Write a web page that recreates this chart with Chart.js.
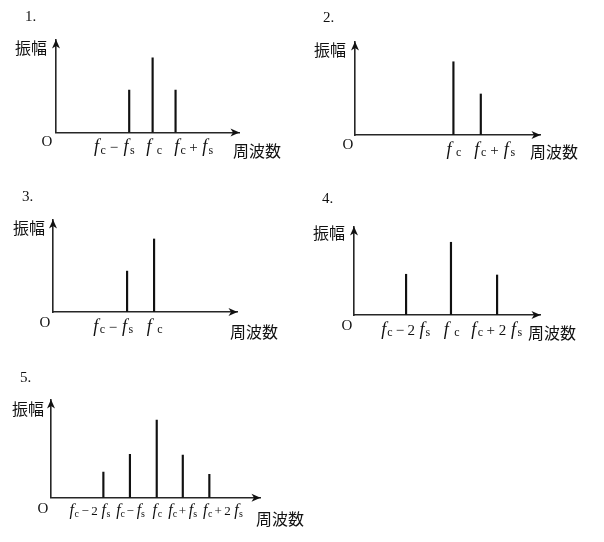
<!DOCTYPE html>
<html>
<head>
<meta charset="utf-8">
<script src="https://cdn.jsdelivr.net/npm/chart.js@4.4.1/dist/chart.umd.min.js"></script>
<style>
html,body{margin:0;padding:0;background:#fff;}
#wrap{position:relative;width:604px;height:542px;overflow:hidden;background:#fff;}
#wrap canvas{position:absolute;left:0;top:0;}
</style>
</head>
<body>
<div id="wrap">
<canvas id="c1" width="604" height="542"></canvas>
<canvas id="c2" width="604" height="542"></canvas>
<canvas id="c3" width="604" height="542"></canvas>
<canvas id="c4" width="604" height="542"></canvas>
<canvas id="c5" width="604" height="542"></canvas>
</div>
<script>
// ---------------- data ----------------
const panelNumbers = ['1.', '2.', '3.', '4.', '5.'];
const yAxisTitle = '振幅';
const xAxisTitle = '周波数';
const originLabel = 'O';

// panel 1
const p1Freq = [3.0, 3.96, 4.9];
const p1Amp = [0.57, 1.0, 0.57];
const p1Ticks = ['f_c−f_s', 'f_c', 'f_c+f_s'];
const p1Range = [7.5, 1.24];

// panel 2
const p2Freq = [3.99, 5.1];
const p2Amp = [1.0, 0.56];
const p2Ticks = ['f_c', 'f_c+f_s'];
const p2Range = [7.5, 1.27];

// panel 3
const p3Freq = [3.02, 4.12];
const p3Amp = [0.56, 1.0];
const p3Ticks = ['f_c−f_s', 'f_c'];
const p3Range = [7.5, 1.26];

// panel 4
const p4Freq = [2.1, 3.91, 5.77];
const p4Amp = [0.56, 1.0, 0.55];
const p4Ticks = ['f_c−2f_s', 'f_c', 'f_c+2f_s'];
const p4Range = [7.5, 1.21];

// panel 5
const p5Freq = [2.13, 3.21, 4.3, 5.36, 6.44];
const p5Amp = [0.33, 0.56, 1.0, 0.55, 0.3];
const p5Ticks = ['f_c−2f_s', 'f_c−f_s', 'f_c', 'f_c+f_s', 'f_c+2f_s'];
const p5Range = [8.5, 1.26];

// ---------------- layout (styling only) ----------------
const layouts = [
  {area:[56,40,239,132.5], num:[25,17.5], yt:[15,47.5], xt:[233,151], origin:[47,142.5], tickDx:[-15.5,1,17.5], tickW:[42,17,40], tickOff:19.5, tickSize:15},
  {area:[355,42,540,135], num:[323,18], yt:[314,50], xt:[530,152], origin:[348,145], tickDx:[0,13.3], tickW:[16,42], tickOff:19.5, tickSize:15},
  {area:[53,220,237,312], num:[22,197.5], yt:[13,228], xt:[230,332], origin:[45,323], tickDx:[-14.5,0], tickW:[41,17], tickOff:19.5, tickSize:15},
  {area:[354,227,540,315], num:[322,199], yt:[313,232.5], xt:[528,333], origin:[347,326], tickDx:[-1,0,-1], tickW:[50,17,52], tickOff:19.5, tickSize:15},
  {area:[51,400,260,497.7], num:[20,378], yt:[12,409], xt:[256,519], origin:[43,509], tickDx:[-14,0,0,-0.7,13], tickW:[42,30,11,30,41], tickOff:17.5, tickSize:13}
];

const series = [
  {freq:p1Freq, amp:p1Amp, ticks:p1Ticks, range:p1Range},
  {freq:p2Freq, amp:p2Amp, ticks:p2Ticks, range:p2Range},
  {freq:p3Freq, amp:p3Amp, ticks:p3Ticks, range:p3Range},
  {freq:p4Freq, amp:p4Amp, ticks:p4Ticks, range:p4Range},
  {freq:p5Freq, amp:p5Amp, ticks:p5Ticks, range:p5Range}
];

const INK = '#111111';
const AXIS = '#262626';
const CJK = '"Noto Sans CJK JP", "Noto Sans CJK SC", sans-serif';
const SERIF = '"Liberation Serif", "DejaVu Serif", serif';

function drawRich(ctx, str, cx, baseY, size, targetW) {
  const toks = [];
  for (let i = 0; i < str.length; i++) {
    const ch = str[i];
    if (ch === '_') { toks.push({t: str[++i], kind: 'sub'}); }
    else if (ch === 'f') { toks.push({t: 'f', kind: 'var'}); }
    else { toks.push({t: ch, kind: 'op'}); }
  }
  const fonts = {
    var: 'italic ' + (size + 3) + 'px ' + SERIF,
    sub: Math.round(size * 0.8) + 'px ' + SERIF,
    op: size + 'px ' + SERIF
  };
  toks.forEach(t => { ctx.font = fonts[t.kind]; t.w = ctx.measureText(t.t).width; });
  const nat = toks.reduce((s, t) => s + t.w, 0);
  // gap weights: a subscript sits closer to its variable
  const weights = [];
  for (let i = 1; i < toks.length; i++) weights.push(toks[i].kind === 'sub' ? 0.7 : 1);
  const wSum = weights.reduce((a, b) => a + b, 0);
  const unit = wSum > 0 ? (targetW - nat) / wSum : 0;
  let x = cx - targetW / 2;
  if (toks.length === 1) x = cx - nat / 2;
  ctx.textAlign = 'left';
  ctx.textBaseline = 'alphabetic';
  toks.forEach((t, i) => {
    ctx.font = fonts[t.kind];
    ctx.fillText(t.t, x + (t.kind === 'var' ? 1.2 : 0), baseY + (t.kind === 'sub' ? size * 0.12 : 0));
    x += t.w + (i < weights.length ? weights[i] * unit : 0);
  });
}

function makeChart(idx) {
  const s = series[idx];
  const L = layouts[idx];
  const [aL, aT, aR, aB] = L.area;
  const decor = {
    id: 'decor' + idx,
    afterDraw(chart) {
      const ctx = chart.ctx;
      const xs = chart.scales.x, ys = chart.scales.y;
      const x0 = xs.getPixelForValue(0), y0 = ys.getPixelForValue(0);
      const xEnd = xs.getPixelForValue(s.range[0]);
      const yEnd = ys.getPixelForValue(s.range[1]);
      ctx.save();
      ctx.fillStyle = INK;
      // arrow heads
      ctx.beginPath();
      ctx.moveTo(xEnd + 0.5, y0);
      ctx.lineTo(xEnd - 8.5, y0 - 4);
      ctx.lineTo(xEnd - 6, y0);
      ctx.lineTo(xEnd - 8.5, y0 + 4);
      ctx.closePath();
      ctx.fill();
      ctx.beginPath();
      ctx.moveTo(x0, yEnd - 0.5);
      ctx.lineTo(x0 - 4, yEnd + 8.5);
      ctx.lineTo(x0, yEnd + 6);
      ctx.lineTo(x0 + 4, yEnd + 8.5);
      ctx.closePath();
      ctx.fill();
      // tick labels under the bars
      s.ticks.forEach((lab, i) => {
        const px = xs.getPixelForValue(s.freq[i]) + L.tickDx[i];
        drawRich(ctx, lab, px, y0 + L.tickOff, L.tickSize, L.tickW[i]);
      });
      // panel number
      ctx.font = '15px ' + SERIF;
      ctx.textAlign = 'left';
      ctx.textBaseline = 'middle';
      ctx.fillText(panelNumbers[idx], L.num[0], L.num[1]);
      // origin
      ctx.font = '15px ' + SERIF;
      ctx.textAlign = 'center';
      ctx.fillText(originLabel, L.origin[0], L.origin[1]);
      // axis titles
      ctx.font = '16px ' + CJK;
      ctx.textAlign = 'left';
      ctx.fillText(yAxisTitle, L.yt[0], L.yt[1]);
      ctx.fillText(xAxisTitle, L.xt[0], L.xt[1]);
      ctx.restore();
    }
  };
  return new Chart(document.getElementById('c' + (idx + 1)), {
    type: 'bar',
    data: {
      datasets: [{
        data: s.freq.map((f, i) => ({x: f, y: s.amp[i]})),
        backgroundColor: INK,
        borderWidth: 0,
        barThickness: 1.5
      }]
    },
    options: {
      responsive: false,
      animation: false,
      devicePixelRatio: 1,
      layout: {padding: {left: aL, top: aT, right: 604 - aR, bottom: 542 - aB}},
      plugins: {legend: {display: false}, tooltip: {enabled: false}, title: {display: false}},
      scales: {
        x: {
          type: 'linear', min: 0, max: s.range[0], offset: false,
          grid: {display: false, drawTicks: false},
          ticks: {display: false},
          border: {display: true, color: AXIS, width: 1.6}
        },
        y: {
          type: 'linear', min: 0, max: s.range[1],
          grid: {display: false, drawTicks: false},
          ticks: {display: false},
          border: {display: true, color: AXIS, width: 1.6}
        }
      }
    },
    plugins: [decor]
  });
}

for (let i = 0; i < 5; i++) makeChart(i);
</script>
</body>
</html>
